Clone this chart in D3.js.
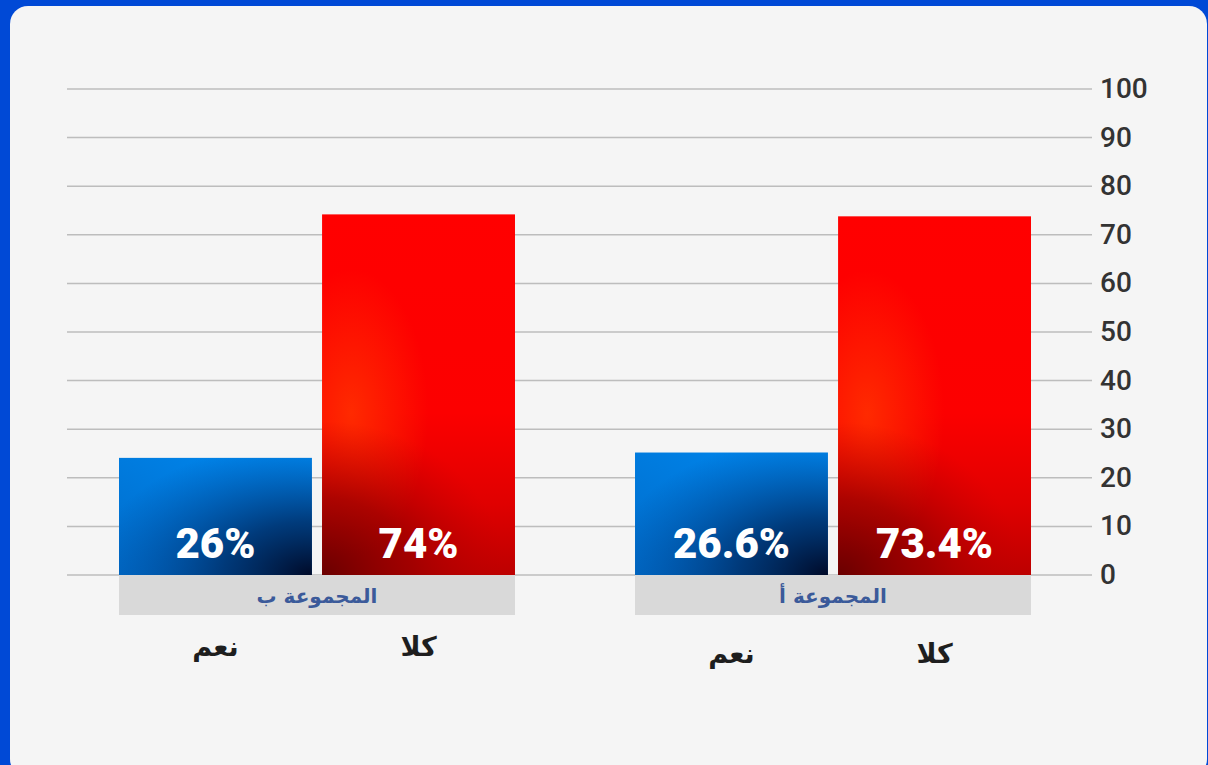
<!DOCTYPE html>
<meta charset="utf-8">
<style>
body { margin: 0; background: #0049d6; }
svg { display: block; }
.tick text { font-family: Roboto, sans-serif; font-weight: 500; font-size: 28px; fill: #333; }
.value { font-family: Roboto, sans-serif; font-weight: 900; font-size: 42px; fill: #fff; text-anchor: middle; }
.group-label { font-family: "DejaVu Sans", sans-serif; font-weight: bold; font-size: 20px; fill: #3b5a9a; text-anchor: middle; }
.cat-label { font-family: "DejaVu Sans", sans-serif; font-weight: bold; font-size: 27px; fill: #1e1e1e; text-anchor: middle; }
</style>
<svg width="1208" height="765"></svg>
<script src="https://cdn.jsdelivr.net/npm/d3@7"></script>
<script>

// data, left to right as drawn
var groups = ["المجموعة ب", "المجموعة أ"];
var answers = ["نعم", "كلا"];
var barValues = [[24.1, 74.2], [25.2, 73.8]];    // bar heights
var barLabels = [["26%", "74%"], ["26.6%", "73.4%"]];
var yTicks = [0, 10, 20, 30, 40, 50, 60, 70, 80, 90, 100];

var svg = d3.select("svg"),
    width = +svg.attr("width"),
    height = +svg.attr("height");

// frame
svg.append("rect").attr("width", width).attr("height", height).attr("fill", "#0049d6");
svg.append("rect")
    .attr("x", 10).attr("y", 6)
    .attr("width", width - 11).attr("height", height + 6)
    .attr("rx", 18)
    .attr("fill", "#f5f5f5");

var defs = svg.append("defs");

var blueBase = defs.append("linearGradient").attr("id", "blueBase")
    .attr("x1", 0).attr("y1", 1).attr("x2", 1).attr("y2", 0);
blueBase.append("stop").attr("offset", 0).attr("stop-color", "#006cca");
blueBase.append("stop").attr("offset", 1).attr("stop-color", "#008af2");

var blueDark = defs.append("radialGradient").attr("id", "blueDark")
    .attr("cx", 1).attr("cy", 1).attr("r", 1.15).attr("fx", 1).attr("fy", 1);
blueDark.append("stop").attr("offset", 0).attr("stop-color", "#000a28").attr("stop-opacity", 1);
blueDark.append("stop").attr("offset", 0.4).attr("stop-color", "#002a62").attr("stop-opacity", 0.8);
blueDark.append("stop").attr("offset", 1).attr("stop-color", "#004090").attr("stop-opacity", 0);

var redBase = defs.append("linearGradient").attr("id", "redBase")
    .attr("x1", 0).attr("y1", 0).attr("x2", 0).attr("y2", 1);
redBase.append("stop").attr("offset", 0).attr("stop-color", "#ff0000");
redBase.append("stop").attr("offset", 0.55).attr("stop-color", "#fc0000");
redBase.append("stop").attr("offset", 0.8).attr("stop-color", "#e00000");
redBase.append("stop").attr("offset", 1).attr("stop-color", "#bc0000");

var redGlow = defs.append("radialGradient").attr("id", "redGlow")
    .attr("cx", 0.15).attr("cy", 0.55).attr("r", 0.4);
redGlow.append("stop").attr("offset", 0).attr("stop-color", "#ff2c00").attr("stop-opacity", 0.95);
redGlow.append("stop").attr("offset", 1).attr("stop-color", "#ff2c00").attr("stop-opacity", 0);

// squashed vertically so the dark corner stays low
var redDark = defs.append("radialGradient").attr("id", "redDark")
    .attr("cx", 0).attr("cy", 1).attr("r", 0.95).attr("fx", 0).attr("fy", 1)
    .attr("gradientTransform", "translate(0,1) scale(1,0.45) translate(0,-1)");
redDark.append("stop").attr("offset", 0).attr("stop-color", "#6a0000").attr("stop-opacity", 1);
redDark.append("stop").attr("offset", 0.5).attr("stop-color", "#980000").attr("stop-opacity", 0.75);
redDark.append("stop").attr("offset", 1).attr("stop-color", "#c00000").attr("stop-opacity", 0);

var fills = [["url(#blueBase)", "url(#blueDark)"], ["url(#redBase)", "url(#redGlow)", "url(#redDark)"]];

// scales
var y = d3.scaleLinear().domain([0, 100]).range([575, 89]);

var x0 = d3.scaleBand().domain(groups).range([119, 1031]).paddingInner(0.2326);
var x1 = d3.scaleBand().domain(answers).range([0, x0.bandwidth()]).paddingInner(0.05);

// gridlines
svg.append("g").selectAll("line")
    .data(yTicks)
    .enter().append("line")
      .attr("x1", 67).attr("x2", 1092)
      .attr("y1", function(d) { return y(d); })
      .attr("y2", function(d) { return y(d); })
      .attr("stroke", "#bdbdbd")
      .attr("stroke-width", 1.5);

// right axis
var axis = svg.append("g")
    .attr("transform", "translate(1092,0)")
    .call(d3.axisRight(y).tickValues(yTicks).tickSize(0).tickPadding(8));
axis.select(".domain").remove();
axis.selectAll("text").attr("dy", "0.3em");

// group label boxes
var g = svg.append("g").selectAll("g")
    .data(groups)
    .enter().append("g")
      .attr("transform", function(d) { return "translate(" + x0(d) + ",0)"; });

g.append("rect")
    .attr("x", 0).attr("y", y(0))
    .attr("width", x0.bandwidth()).attr("height", 40)
    .attr("fill", "#d9d9d9");

g.append("text")
    .attr("class", "group-label")
    .attr("x", x0.bandwidth() / 2)
    .attr("y", y(0) + 28)
    .text(function(d) { return d; });

// bars
var bar = g.selectAll(".bar")
    .data(function(d, gi) {
      return answers.map(function(a, ai) {
        return { group: gi, answer: a, ai: ai, value: barValues[gi][ai], label: barLabels[gi][ai] };
      });
    })
    .enter().append("g")
      .attr("class", "bar");

bar.each(function(d) {
  var sel = d3.select(this);
  fills[d.ai].forEach(function(f) {
    sel.append("rect")
        .attr("x", x1(d.answer))
        .attr("y", y(d.value))
        .attr("width", x1.bandwidth())
        .attr("height", y(0) - y(d.value))
        .attr("fill", f);
  });
});

bar.append("text")
    .attr("class", "value")
    .attr("x", function(d) { return x1(d.answer) + x1.bandwidth() / 2; })
    .attr("y", y(0) - 17)
    .text(function(d) { return d.label; });

bar.append("text")
    .attr("class", "cat-label")
    .attr("x", function(d) { return x1(d.answer) + x1.bandwidth() / 2; })
    .attr("y", function(d) { return d.group === 0 ? 656 : 663; })
    .text(function(d) { return d.answer; });

</script>
